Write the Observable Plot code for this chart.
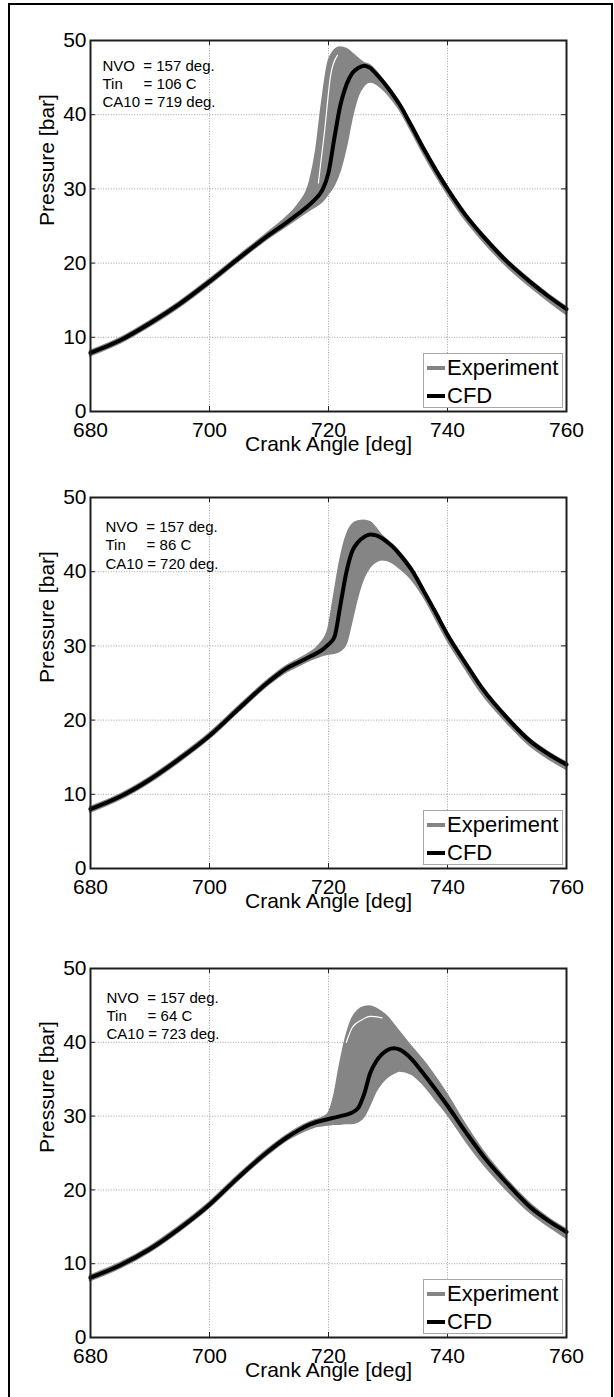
<!DOCTYPE html>
<html>
<head>
<meta charset="utf-8">
<script src="https://cdn.jsdelivr.net/npm/d3@7"></script>
<script src="https://cdn.jsdelivr.net/npm/@observablehq/plot@0.6"></script>
<style>
  html, body { margin: 0; padding: 0; background: #fff; }
  body { position: relative; width: 614px; height: 1397px; overflow: hidden;
         font-family: "Liberation Sans", Arial, Helvetica, sans-serif; }
  .panel { position: absolute; left: 0; }
  .panel svg text { white-space: pre; }
  .outer { position: absolute; left: 8px; top: 3px; width: 601px; height: 1430px;
           border: 2px solid #000; pointer-events: none; z-index: 10; }
  .legend { position: absolute; width: 140px; height: 55px; background: #fff;
            border: 1px solid #a8a8a8; box-sizing: border-box; z-index: 5; }
  .legend .row { position: absolute; left: 0; height: 28px; display: flex; align-items: center;
                 font-size: 22px; line-height: 28px; color: #000; }
  .legend .sw { width: 18px; height: 4px; margin-left: 3px; margin-right: 2px; }
</style>
</head>
<body>
<div class="outer"></div>
<script>
// ---------- data ----------
const xTicks = [680, 700, 720, 740, 760];
const yTicks = [0, 10, 20, 30, 40, 50];
const xLabel = "Crank Angle [deg]";
const yLabel = "Pressure [bar]";
const legendLabels = ["Experiment", "CFD"];
const nvoVals = ["157", "157", "157"];
const tinVals = ["106", "86", "64"];
const ca10Vals = ["719", "720", "723"];

const angles = [680, 685, 690, 695, 700, 705, 710, 713, 715, 717, 718, 719, 720, 721, 722, 723, 724, 725,
                726, 727, 728, 729, 730, 731, 732, 734, 736, 738, 740, 743, 746, 750, 754, 757, 760];

// Tin = 106 C
const cfd106 = [7.9, 9.6, 11.9, 14.5, 17.5, 20.7, 23.8, 25.5, 26.7, 28.0, 28.8, 29.9, 32.2, 36.9, 41.3, 44.0, 45.6, 46.3,
                46.6, 46.3, 45.5, 44.6, 43.6, 42.5, 41.3, 38.4, 35.4, 32.6, 30.0, 26.5, 23.6, 20.2, 17.4, 15.5, 13.8];
const lo106  = [7.5, 9.2, 11.5, 14.1, 17.1, 20.3, 23.4, 25.0, 26.1, 27.2, 27.7, 28.3, 29.3, 30.5, 32.5, 35.6, 39.6, 42.5,
                43.9, 44.4, 44.2, 43.6, 42.8, 41.8, 40.7, 37.8, 34.8, 32.0, 29.4, 25.9, 23.0, 19.6, 16.8, 14.9, 13.1];
const hi106  = [8.1, 9.8, 12.1, 14.7, 17.7, 20.9, 24.1, 26.1, 27.8, 31.0, 35.0, 41.5, 46.8, 48.5, 49.0, 48.8, 48.2, 47.5,
                46.9, 46.6, 45.8, 44.8, 43.8, 42.7, 41.5, 38.6, 35.6, 32.8, 30.2, 26.7, 23.8, 20.4, 17.6, 15.7, 14.0];
const whiteAng106 = [718.3, 719.3, 720.4, 721.5];
const whiteP106   = [30.8, 37.5, 45.5, 48.0];

// Tin = 86 C
const cfd86 = [8.0, 9.7, 12.0, 14.8, 17.9, 21.6, 25.2, 27.0, 27.8, 28.6, 29.0, 29.5, 30.2, 31.2, 35.5, 39.9, 42.8, 44.0,
               44.7, 45.0, 44.9, 44.5, 43.9, 43.2, 42.3, 40.2, 37.4, 34.5, 31.5, 27.7, 24.1, 20.3, 17.1, 15.4, 14.0];
const lo86  = [7.6, 9.3, 11.6, 14.4, 17.5, 21.2, 24.8, 26.5, 27.3, 28.1, 28.4, 28.7, 28.9, 29.0, 29.3, 30.3, 33.5, 36.8,
               39.2, 40.6, 41.3, 41.6, 41.5, 41.1, 40.5, 39.0, 36.7, 33.8, 30.8, 27.0, 23.4, 19.7, 16.5, 14.8, 13.4];
const hi86  = [8.2, 9.9, 12.2, 15.0, 18.1, 21.8, 25.4, 27.2, 28.1, 29.0, 29.6, 30.5, 32.0, 36.5, 41.2, 44.5, 46.2, 46.7,
               46.8, 46.6, 45.8, 44.8, 44.1, 43.4, 42.5, 40.4, 37.6, 34.7, 31.7, 27.9, 24.3, 20.5, 17.3, 15.6, 14.2];
const whiteAng86 = [];
const whiteP86   = [];

// Tin = 64 C
const cfd64 = [8.1, 9.8, 12.0, 14.8, 18.0, 21.8, 25.3, 27.1, 28.1, 28.9, 29.2, 29.4, 29.6, 29.8, 30.0, 30.2, 30.5, 31.1,
               33.0, 35.8, 37.4, 38.4, 39.0, 39.2, 39.0, 37.7, 35.7, 33.6, 31.4, 27.9, 24.6, 20.9, 17.6, 15.8, 14.3];
const lo64  = [7.7, 9.4, 11.6, 14.4, 17.6, 21.4, 24.9, 26.7, 27.6, 28.3, 28.6, 28.7, 28.8, 28.9, 28.9, 29.0, 29.0, 29.2,
               29.9, 31.5, 33.3, 34.5, 35.3, 35.8, 36.1, 35.7, 34.3, 32.3, 30.3, 26.8, 23.6, 20.0, 16.9, 15.1, 13.5];
const hi64  = [8.3, 10.0, 12.2, 15.0, 18.2, 22.0, 25.5, 27.3, 28.3, 29.1, 29.4, 29.7, 30.2, 32.5, 36.8, 40.5, 43.0, 44.2,
               44.7, 44.8, 44.5, 44.0, 43.3, 42.3, 41.3, 39.3, 37.4, 35.2, 32.8, 28.8, 25.2, 21.3, 18.0, 16.1, 14.6];
const whiteAng64 = [723, 724, 725.5, 727, 729];
const whiteP64   = [40.0, 42.0, 43.0, 43.5, 43.3];

// ---------- layout / style ----------
const GRAY = "#858585";
const FONT = "'Liberation Sans', Arial, Helvetica, sans-serif";
const W = 614, ML = 90, MR = 48, MT = 40, PW = W - ML - MR;
const panels = [
  {cfd: cfd106, lo: lo106, hi: hi106, wa: whiteAng106, wp: whiteP106, top: 0,   h: 371, svgH: 457, ax: 12, ay: 17},
  {cfd: cfd86,  lo: lo86,  hi: hi86,  wa: whiteAng86,  wp: whiteP86,  top: 457, h: 371, svgH: 471, ax: 15, ay: 21.5},
  {cfd: cfd64,  lo: lo64,  hi: hi64,  wa: whiteAng64,  wp: whiteP64,  top: 928, h: 369, svgH: 469, ax: 16, ay: 21}
];

panels.forEach((p, i) => {
  const data = angles.map((a, j) => ({a, cfd: p.cfd[j], lo: p.lo[j], hi: p.hi[j]}));
  const white = p.wa.map((a, j) => ({a, v: p.wp[j]}));
  const annot = `NVO  = ${nvoVals[i]} deg.\nTin     = ${tinVals[i]} C\nCA10 = ${ca10Vals[i]} deg.`;
  const H = p.h;
  const chart = Plot.plot({
    width: W, height: p.svgH,
    marginLeft: ML, marginRight: MR, marginTop: MT, marginBottom: p.svgH - MT - H,
    style: {background: "transparent", fontFamily: FONT, color: "#000", overflow: "visible"},
    x: {domain: [680, 760], label: null},
    y: {domain: [0, 50], label: null},
    marks: [
      Plot.ruleX(xTicks, {stroke: "#a0a0a0", strokeWidth: 1, strokeDasharray: "1,1.6"}),
      Plot.ruleY(yTicks, {stroke: "#a0a0a0", strokeWidth: 1, strokeDasharray: "1,1.6"}),
      Plot.areaY(data, {x: "a", y1: "lo", y2: "hi", fill: GRAY, stroke: GRAY, strokeWidth: 2.5, curve: "monotone-x"}),
      Plot.line(white, {x: "a", y: "v", stroke: "#fff", strokeWidth: 1.2, curve: "monotone-x"}),
      Plot.line(data, {x: "a", y: "cfd", stroke: "#000", strokeWidth: 4, curve: "monotone-x"}),
      Plot.ruleX(xTicks, {stroke: "#222", insetTop: H - 5}),
      Plot.ruleX(xTicks, {stroke: "#222", insetBottom: H - 5}),
      Plot.ruleY(yTicks, {stroke: "#222", insetRight: PW - 5}),
      Plot.ruleY(yTicks, {stroke: "#222", insetLeft: PW - 5}),
      Plot.axisX(xTicks, {tickSize: 0, tickPadding: 11, fontSize: 21, label: null}),
      Plot.axisY(yTicks, {tickSize: 0, tickPadding: 4, fontSize: 21, label: null}),
      Plot.text([xLabel], {frameAnchor: "bottom", dy: 39, fontSize: 21}),
      Plot.text([yLabel], {frameAnchor: "left", rotate: -90, dx: -43, fontSize: 21}),
      Plot.text([annot], {frameAnchor: "top-left", textAnchor: "start", lineAnchor: "top",
                          dx: p.ax, dy: p.ay, fontSize: 15, lineHeight: 1.22}),
      Plot.frame({stroke: "#1e1e1e", strokeWidth: 2})
    ]
  });
  const wrap = document.createElement("div");
  wrap.className = "panel";
  wrap.style.top = p.top + "px";
  wrap.appendChild(chart);
  document.body.appendChild(wrap);

  // legend (HTML overlay inside the plot frame, lower right)
  const lg = document.createElement("div");
  lg.className = "legend";
  lg.style.left = (ML + PW - 3 - 140) + "px";
  lg.style.top = (p.top + MT + H - 3 - 55) + "px";
  const colors = [GRAY, "#000"];
  legendLabels.forEach((lab, k) => {
    const row = document.createElement("div");
    row.className = "row";
    row.style.top = (k === 0 ? 0 : 28) + "px";
    const sw = document.createElement("span");
    sw.className = "sw";
    sw.style.background = colors[k];
    const tx = document.createElement("span");
    tx.textContent = lab;
    row.appendChild(sw);
    row.appendChild(tx);
    lg.appendChild(row);
  });
  document.body.appendChild(lg);
});
</script>
</body>
</html>
